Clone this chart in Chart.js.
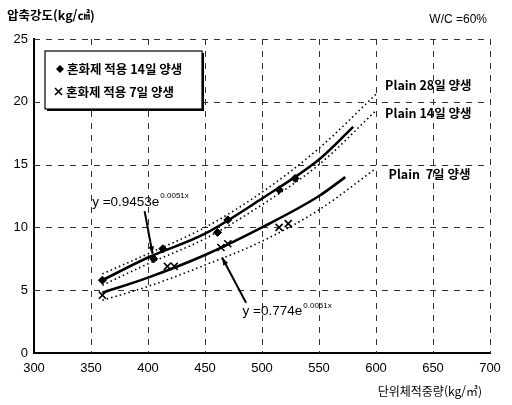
<!DOCTYPE html>
<html lang="ko">
<head>
<meta charset="UTF-8">
<title>압축강도 - 단위체적중량</title>
<script src="https://cdn.jsdelivr.net/npm/chart.js"></script>
<style>
  body { margin: 0; background: #fff; }
  #wrap { width: 512px; height: 405px; }
</style>
</head>
<body>
<div id="wrap"><canvas id="myChart" width="512" height="405"></canvas></div>
<script>
var mix14X = [360, 405, 413, 461, 470, 515, 529];
var mix14Y = [5.8, 7.5, 8.3, 9.6, 10.6, 13.0, 13.9];
var mix7X = [360, 417, 423, 464, 470, 515, 523];
var mix7Y = [4.6, 6.9, 6.9, 8.4, 8.7, 10.0, 10.3];

// trend lines of the admixture series
var trend14X = [360, 400, 450, 500, 550, 580];
var trend14Y = [5.8, 7.6, 9.5, 12.3, 15.4, 18.0];
var trend7X = [360, 400, 450, 500, 550, 573];
var trend7Y = [4.8, 6.0, 7.8, 10.0, 12.5, 14.0];

// plain concrete curves (dotted)
var plainX = [360, 400, 450, 500, 550, 600];
var plain28Y = [6.3, 7.9, 10.0, 12.8, 16.3, 20.6];
var plain14Y = [5.4, 7.1, 9.1, 11.8, 15.0, 19.3];
var plain7Y = [4.2, 5.3, 7.0, 8.9, 11.4, 14.7];

var xTicks = [300, 350, 400, 450, 500, 550, 600, 650, 700];
var yTicks = [0, 5, 10, 15, 20, 25];

function pts(xs, ys) {
    return xs.map(function (x, i) { return { x: x, y: ys[i] }; });
}

var KR = '"Noto Sans CJK KR", "Liberation Sans", sans-serif';
var LAT = '"Liberation Sans", Arial, sans-serif';

function curve(label, xs, ys, dotted) {
    return {
        label: label,
        data: pts(xs, ys),
        showLine: true,
        borderColor: '#000',
        borderWidth: dotted ? 1.6 : 2.6,
        borderDash: dotted ? [1.5, 3] : [],
        pointRadius: 0,
        cubicInterpolationMode: 'monotone',
        fill: false
    };
}

// dashed grid drawn under the data
var dashGrid = {
    id: 'dashGrid',
    beforeDatasetsDraw: function (chart) {
        var ctx = chart.ctx, a = chart.chartArea;
        var xs = chart.scales.x, ys = chart.scales.y;
        ctx.save();
        ctx.strokeStyle = '#333';
        ctx.lineWidth = 1;
        ctx.setLineDash([6, 6]);
        xTicks.forEach(function (v) {
            if (v === xs.min) return;
            var x = Math.round(xs.getPixelForValue(v)) + 0.5;
            ctx.beginPath(); ctx.moveTo(x, a.top); ctx.lineTo(x, a.bottom); ctx.stroke();
        });
        yTicks.forEach(function (v) {
            if (v === ys.min) return;
            var y = Math.round(ys.getPixelForValue(v)) + 0.5;
            ctx.beginPath(); ctx.moveTo(a.left, y); ctx.lineTo(a.right, y); ctx.stroke();
        });
        ctx.restore();
    }
};

// extra drawing: legend box, labels, equations and arrows
var notes = {
    id: 'notes',
    afterDraw: function (chart) {
        var ctx = chart.ctx;
        var xs = chart.scales.x, ys = chart.scales.y;
        function px(v) { return xs.getPixelForValue(v); }
        function py(v) { return ys.getPixelForValue(v); }
        ctx.save();
        ctx.fillStyle = '#000';
        ctx.strokeStyle = '#000';

        // axis titles and W/C
        ctx.font = 'bold 12.5px ' + KR;
        ctx.textBaseline = 'middle';
        ctx.textAlign = 'left';
        ctx.fillText('압축강도(kg/㎠)', 7, 15);
        ctx.textAlign = 'right';
        ctx.font = '12px ' + LAT;
        ctx.fillText('W/C =60%', 487, 20);
        ctx.font = '12px ' + KR;
        ctx.fillText('단위체적중량(kg/㎥)', 482, 391);

        // legend box with shadow
        var bx = 45, by = 51, bw = 157, bh = 58;
        ctx.fillRect(bx + 2, by + 2, bw, bh);
        ctx.fillStyle = '#fff';
        ctx.fillRect(bx, by, bw, bh);
        ctx.lineWidth = 1.2;
        ctx.strokeRect(bx, by, bw, bh);
        ctx.fillStyle = '#000';
        ctx.font = 'bold 12.5px ' + KR;
        ctx.textAlign = 'left';
        // diamond
        ctx.beginPath();
        ctx.moveTo(60, 65); ctx.lineTo(64, 69); ctx.lineTo(60, 73); ctx.lineTo(56, 69);
        ctx.closePath(); ctx.fill();
        ctx.fillText('혼화제 적용 14일 양생', 67, 69);
        // cross
        ctx.lineWidth = 1.6;
        ctx.beginPath();
        ctx.moveTo(55, 88); ctx.lineTo(62, 95); ctx.moveTo(62, 88); ctx.lineTo(55, 95);
        ctx.stroke();
        ctx.fillText('혼화제 적용 7일 양생', 66, 92);

        // plain labels
        ctx.font = 'bold 12.5px ' + KR;
        ctx.fillText('Plain 28일 양생', px(608), py(21.3));
        ctx.fillText('Plain 14일 양생', px(608), py(19.1));
        ctx.fillText('Plain  7일 양생', px(611), py(14.2));

        // equations
        function equation(x, y, base) {
            ctx.font = '13.5px ' + LAT;
            ctx.textAlign = 'left';
            ctx.fillText(base, x, y);
            var w = ctx.measureText(base).width;
            ctx.font = '8px ' + LAT;
            ctx.fillText('0.0051x', x + w + 1, y - 6);
        }
        equation(px(351), py(12.0), 'y =0.9453e');
        equation(px(483), py(3.3), 'y =0.774e');

        function arrow(x1, y1, x2, y2) {
            ctx.lineWidth = 2;
            ctx.beginPath(); ctx.moveTo(x1, y1); ctx.lineTo(x2, y2); ctx.stroke();
            var a = Math.atan2(y2 - y1, x2 - x1), L = 8;
            ctx.beginPath();
            ctx.moveTo(x2, y2);
            ctx.lineTo(x2 - L * Math.cos(a - 0.35), y2 - L * Math.sin(a - 0.35));
            ctx.lineTo(x2 - L * Math.cos(a + 0.35), y2 - L * Math.sin(a + 0.35));
            ctx.closePath(); ctx.fill();
        }
        arrow(px(397), py(11.3), px(404), py(7.9));
        arrow(px(486), py(4.0), px(465), py(7.6));
        ctx.restore();
    }
};

var ctx = document.getElementById('myChart').getContext('2d');
var myChart = new Chart(ctx, {
    type: 'scatter',
    data: {
        datasets: [
            curve('Plain 28일 양생', plainX, plain28Y, true),
            curve('Plain 14일 양생', plainX, plain14Y, true),
            curve('Plain 7일 양생', plainX, plain7Y, true),
            curve('14일 추세선', trend14X, trend14Y, false),
            curve('7일 추세선', trend7X, trend7Y, false),
            {
                label: '혼화제 적용 14일 양생',
                data: pts(mix14X, mix14Y),
                pointStyle: 'rectRot',
                pointRadius: 4,
                backgroundColor: '#000',
                borderColor: '#000'
            },
            {
                label: '혼화제 적용 7일 양생',
                data: pts(mix7X, mix7Y),
                pointStyle: 'crossRot',
                pointRadius: 5,
                borderWidth: 1.6,
                borderColor: '#000'
            }
        ]
    },
    options: {
        responsive: false,
        animation: false,
        layout: { padding: { top: 39, right: 22, left: 0, bottom: 0 } },
        plugins: { legend: { display: false }, tooltip: { enabled: false } },
        scales: {
            x: {
                type: 'linear', min: 300, max: 700,
                afterBuildTicks: function (s) { s.ticks = xTicks.map(function (v) { return { value: v }; }); },
                afterFit: function (s) { s.height = 52; },
                grid: { display: false, drawTicks: false },
                border: { display: true, color: '#000', width: 2 },
                ticks: { color: '#000', padding: 8, font: { family: LAT, size: 13 } }
            },
            y: {
                type: 'linear', min: 0, max: 25,
                afterBuildTicks: function (s) { s.ticks = yTicks.map(function (v) { return { value: v }; }); },
                afterFit: function (s) { s.width = 34; },
                grid: { display: false, drawTicks: false },
                border: { display: true, color: '#000', width: 2 },
                ticks: { color: '#000', padding: 6, font: { family: LAT, size: 13 } }
            }
        }
    },
    plugins: [dashGrid, notes]
});
</script>
</body>
</html>
